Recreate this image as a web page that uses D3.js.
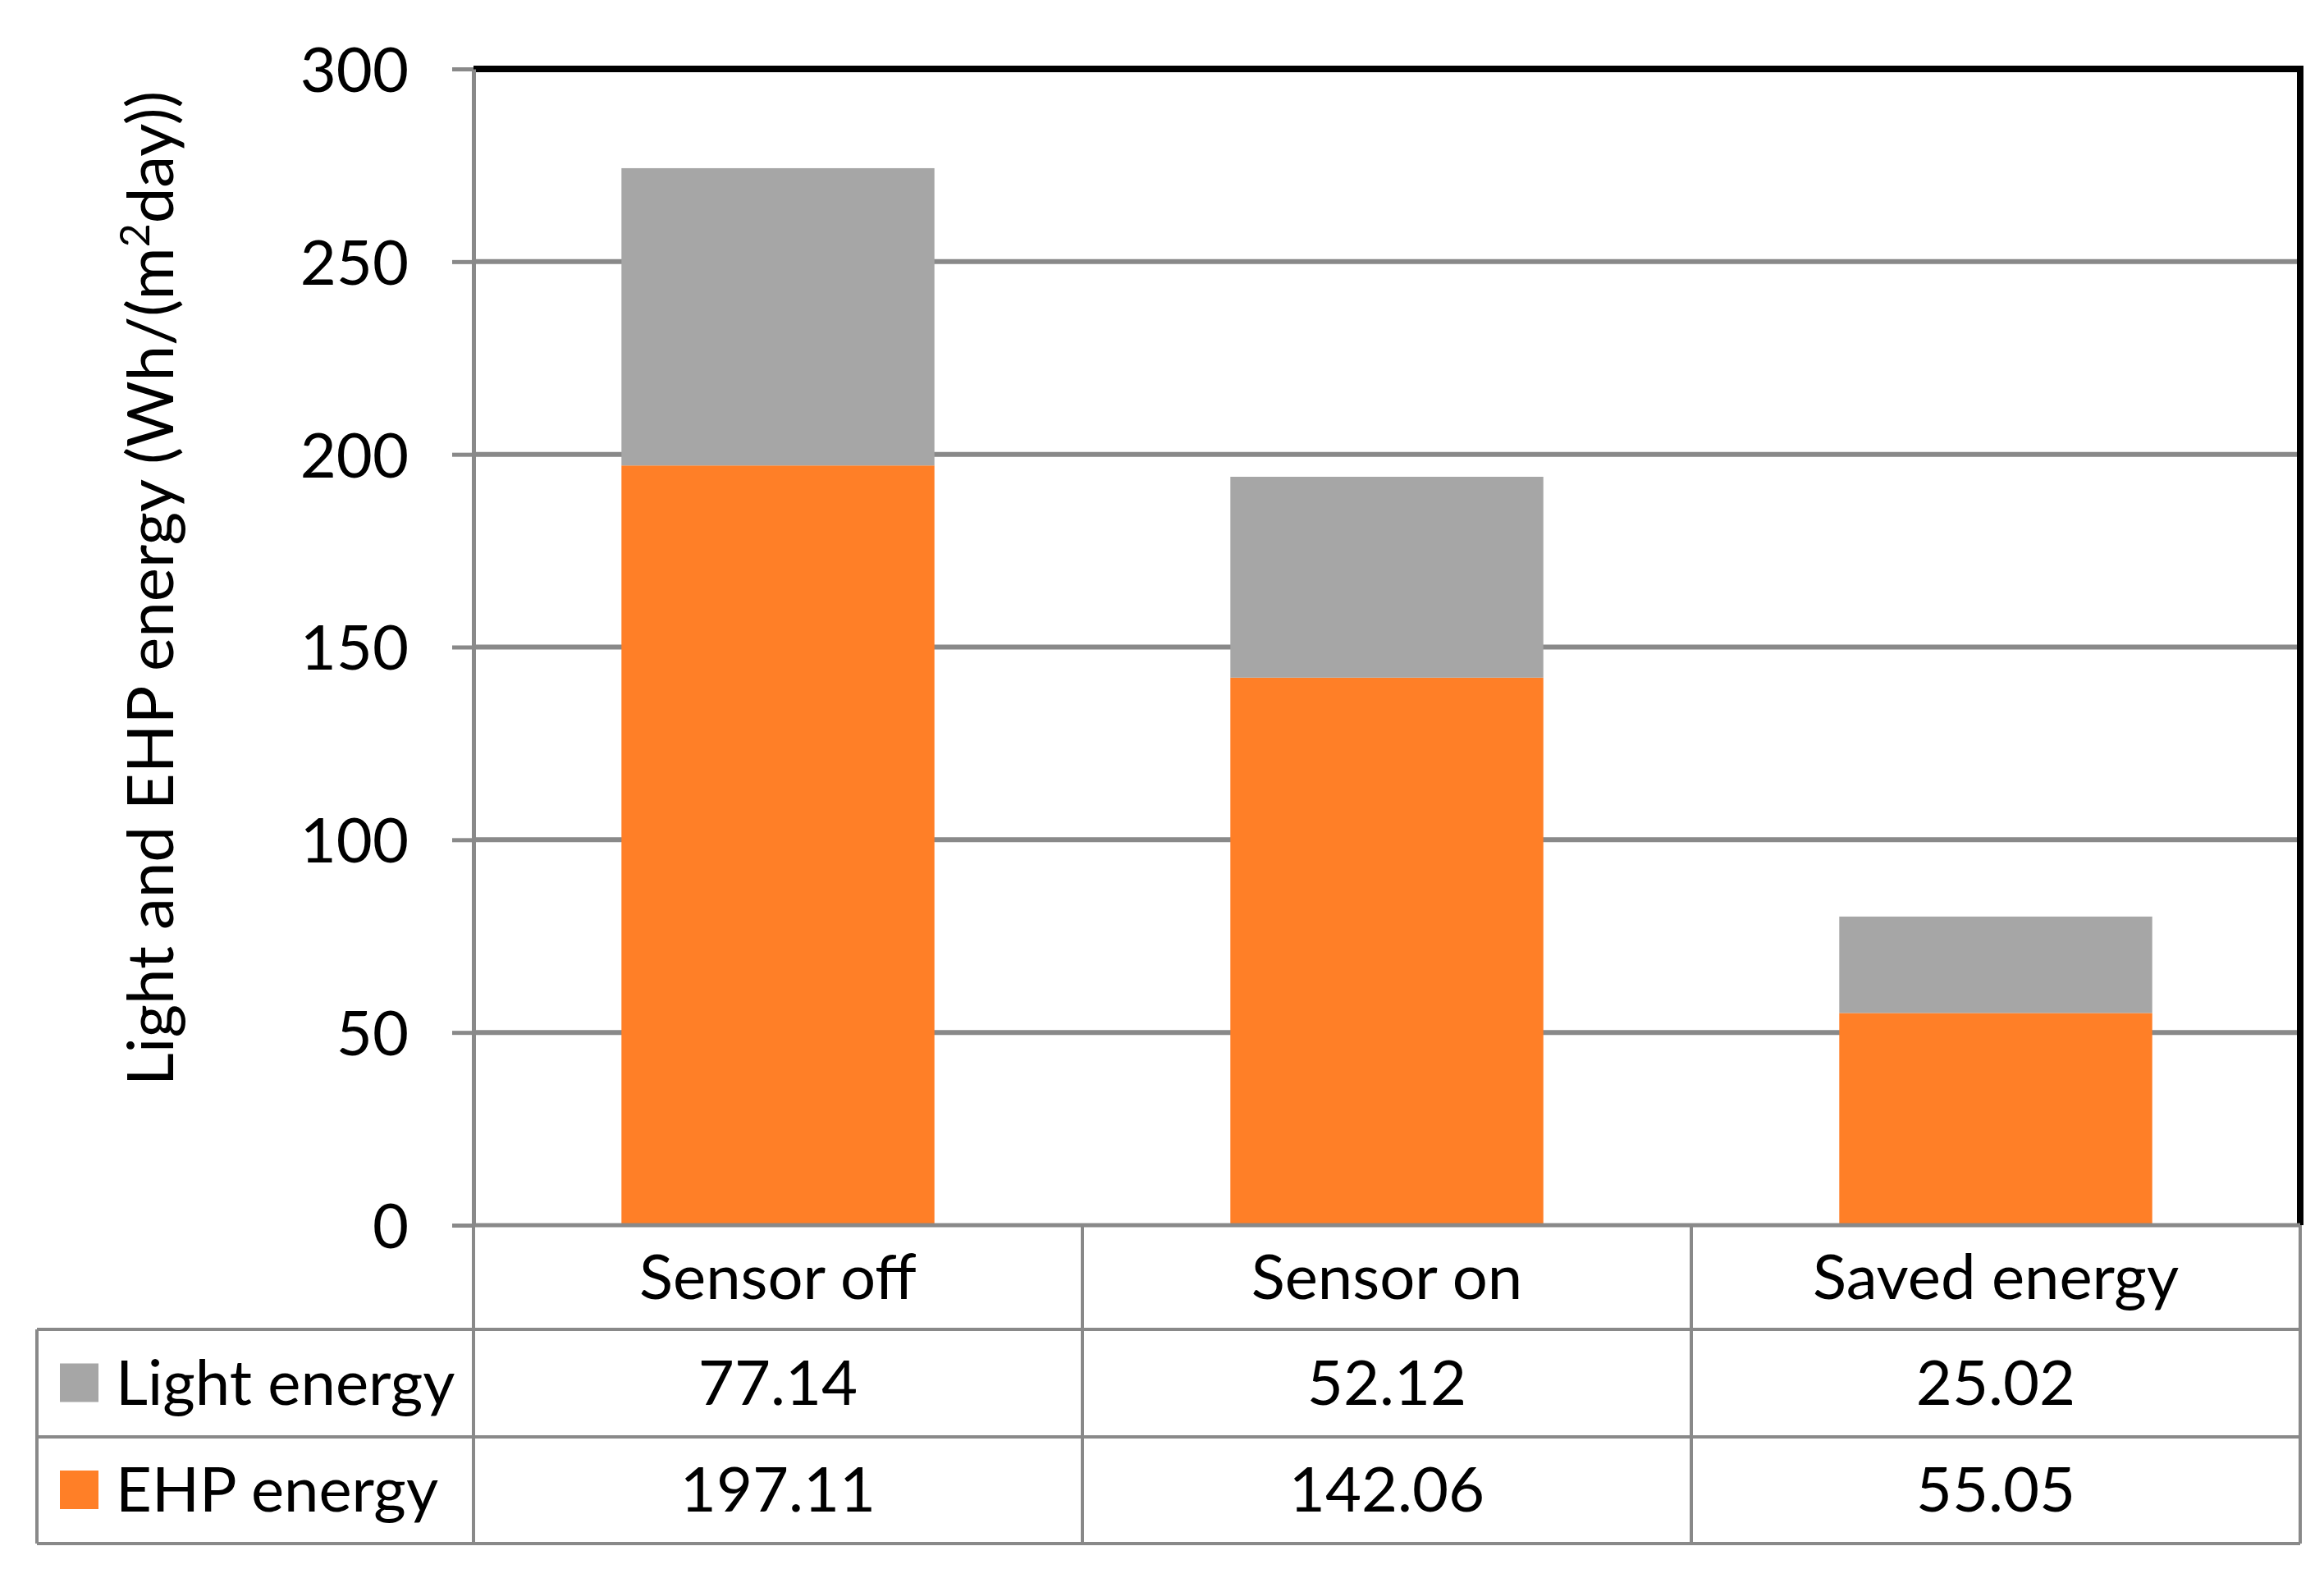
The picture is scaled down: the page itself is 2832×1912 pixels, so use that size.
<!DOCTYPE html>
<html>
<head>
<meta charset="utf-8">
<script src="https://cdn.jsdelivr.net/npm/d3@7"></script>
<style>
  body { margin: 0; background: #fff; }
  text { font-family: Lato, sans-serif; fill: #000; }
</style>
</head>
<body>
<div id="chart"></div>
<script>
const categories = ["Sensor off", "Sensor on", "Saved energy"];
const seriesNames = ["Light energy", "EHP energy"];
const lightEnergy = [77.14, 52.12, 25.02];
const ehpEnergy = [197.11, 142.06, 55.05];
const yTicks = [0, 50, 100, 150, 200, 250, 300];
const colors = { "EHP energy": "#ff7f27", "Light energy": "#a6a6a6" };

const width = 2832, height = 1912;
const plotLeft = 577, plotRight = 2803, plotTop = 84, plotBottom = 1493;
const rowLines = [1493, 1620, 1751, 1881];
const fs = 76;

const svg = d3.select("#chart")
	.append("svg")
	.attr("width", width)
	.attr("height", height);

const x = d3.scaleBand()
	.domain(categories)
	.range([plotLeft, plotRight])
	.paddingInner(0.486)
	.paddingOuter(0.243);

const col = d3.scaleBand()
	.domain(categories)
	.range([plotLeft, plotRight]);

const y = d3.scaleLinear()
	.domain([0, 300])
	.range([plotBottom, plotTop]);

// rows for stacking, EHP at the bottom
const rows = categories.map(function(c, i) {
	return { cat: c, "EHP energy": ehpEnergy[i], "Light energy": lightEnergy[i] };
});
const stacked = d3.stack().keys(["EHP energy", "Light energy"])(rows);

// gridlines
svg.append("g")
	.selectAll("line")
	.data(yTicks.filter(function(d) { return d > 0 && d < 300; }))
	.enter()
	.append("line")
	.attr("x1", plotLeft)
	.attr("x2", plotRight)
	.attr("y1", function(d) { return y(d); })
	.attr("y2", function(d) { return y(d); })
	.attr("stroke", "#898989")
	.attr("stroke-width", 6);

// bars
svg.append("g")
	.selectAll("g")
	.data(stacked)
	.enter()
	.append("g")
	.attr("fill", function(d) { return colors[d.key]; })
	.selectAll("rect")
	.data(function(d) { return d; })
	.enter()
	.append("rect")
	.attr("x", function(d) { return x(d.data.cat); })
	.attr("width", x.bandwidth())
	.attr("y", function(d) { return y(d[1]); })
	.attr("height", function(d) { return y(d[0]) - y(d[1]); });

// plot border, top and right in black
svg.append("path")
	.attr("d", "M" + plotLeft + "," + plotTop + "H" + plotRight + "V" + plotBottom)
	.attr("fill", "none")
	.attr("stroke", "#000")
	.attr("stroke-width", 8);

// y axis
const yAxis = svg.append("g")
	.attr("transform", "translate(" + plotLeft + ",0)")
	.call(d3.axisLeft(y).tickValues(yTicks).tickSize(26).tickPadding(53).tickSizeOuter(0));
yAxis.select(".domain").attr("stroke", "#898989").attr("stroke-width", 5);
yAxis.selectAll(".tick line").attr("stroke", "#898989").attr("stroke-width", 5);
yAxis.selectAll(".tick text")
	.attr("font-size", fs)
	.attr("font-family", "Lato, sans-serif")
	.attr("fill", "#000")
	.attr("dy", "0.36em");

// zero line
svg.append("line")
	.attr("x1", plotLeft).attr("x2", plotRight)
	.attr("y1", y(0)).attr("y2", y(0))
	.attr("stroke", "#898989")
	.attr("stroke-width", 5);

// y axis title
const title = svg.append("text")
	.attr("transform", "translate(211," + 717 + ") rotate(-90)")
	.attr("text-anchor", "middle")
	.attr("font-size", 78);
title.append("tspan").text("Light and EHP energy (Wh/(m");
title.append("tspan").text("2").attr("font-size", 50).attr("dy", -29);
title.append("tspan").text("day))").attr("dy", 29);

// data table
const table = svg.append("g")
	.attr("stroke", "#898989")
	.attr("stroke-width", 4);

table.selectAll("line.h")
	.data(rowLines)
	.enter()
	.append("line")
	.attr("x1", function(d, i) { return i === 0 ? plotLeft : 45; })
	.attr("x2", plotRight)
	.attr("y1", function(d) { return d; })
	.attr("y2", function(d) { return d; });

const colEdges = categories.map(function(c) { return col(c); }).concat([plotRight]);
table.selectAll("line.v")
	.data(colEdges)
	.enter()
	.append("line")
	.attr("x1", function(d) { return d; })
	.attr("x2", function(d) { return d; })
	.attr("y1", rowLines[0])
	.attr("y2", rowLines[3]);

table.append("line")
	.attr("x1", 45).attr("x2", 45)
	.attr("y1", rowLines[1]).attr("y2", rowLines[3]);

function rowMid(r) { return (rowLines[r] + rowLines[r + 1]) / 2; }

// header row: category names
svg.append("g")
	.selectAll("text")
	.data(categories)
	.enter()
	.append("text")
	.attr("x", function(d) { return col(d) + col.bandwidth() / 2; })
	.attr("y", rowMid(0) + 26)
	.attr("text-anchor", "middle")
	.attr("font-size", fs)
	.text(function(d) { return d; });

// value rows
const seriesValues = [lightEnergy, ehpEnergy];
seriesNames.forEach(function(name, r) {
	const my = rowMid(r + 1);
	svg.append("rect")
		.attr("x", 73)
		.attr("y", my - 24)
		.attr("width", 47)
		.attr("height", 47)
		.attr("fill", colors[name]);
	svg.append("text")
		.attr("x", 141)
		.attr("y", my + 26)
		.attr("font-size", fs)
		.text(name);
	svg.append("g")
		.selectAll("text")
		.data(seriesValues[r])
		.enter()
		.append("text")
		.attr("x", function(d, i) { return col(categories[i]) + col.bandwidth() / 2; })
		.attr("y", my + 26)
		.attr("text-anchor", "middle")
		.attr("font-size", fs)
		.text(function(d) { return d.toFixed(2); });
});
</script>
</body>
</html>
